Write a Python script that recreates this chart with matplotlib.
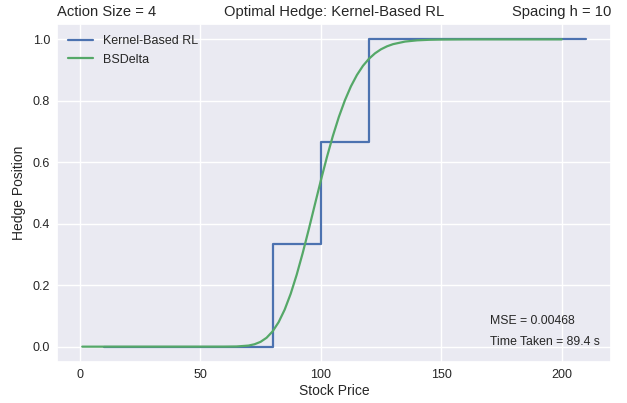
import matplotlib
matplotlib.use("Agg")
import matplotlib.pyplot as plt
import seaborn as sns

# kernel-based RL hedge: piecewise constant over the stock price grid
rl_price = [10, 80, 100, 120, 210]
rl_hedge = [0.0, 1 / 3, 2 / 3, 1.0, 1.0]

# Black-Scholes delta sampled along the price axis
bs_price = [1, 10, 20, 30, 40, 50, 60, 65, 70, 72.5, 75, 77.5, 80, 82.5, 85,
            87.5, 90, 92.5, 95, 97.5, 100, 102.5, 105, 107.5, 110, 112.5, 115,
            117.5, 120, 122.5, 125, 127.5, 130, 135, 140, 145, 150, 160, 170,
            180, 190, 200]
bs_delta = [0.0, 0.0, 0.0, 0.0, 0.0, 0.0, 0.00005, 0.0005, 0.0035, 0.0078,
            0.0156, 0.0289, 0.0496, 0.0796, 0.1202, 0.1718, 0.234, 0.3047,
            0.3813, 0.461, 0.540, 0.6155, 0.6853, 0.7476, 0.8015, 0.847,
            0.8841, 0.9139, 0.9369, 0.9546, 0.9678, 0.9775, 0.9845, 0.9929,
            0.9969, 0.9987, 0.9995, 0.99995, 1.0, 1.0, 1.0, 1.0]

mse = 0.00468
time_taken = 89.4
action_size = 4
spacing = 10

sns.set_theme(style="darkgrid")
plt.rcParams['font.family'] = ['Liberation Sans', 'DejaVu Sans']

fig, ax = plt.subplots(figsize=(6.27, 4.03), dpi=100)
fig.subplots_adjust(left=0.091, right=0.9745, top=0.9404, bottom=0.1017)

ax.step(rl_price, rl_hedge, where='post', color='#4C72B0', lw=1.6, label='Kernel-Based RL')
ax.plot(bs_price, bs_delta, color='#55A868', lw=1.6, label='BSDelta')

ax.set_title('Action Size = {}'.format(action_size), loc='left', fontsize=10.6)
ax.set_title('Optimal Hedge: Kernel-Based RL', fontsize=10.6)
ax.set_title('Spacing h = {}'.format(spacing), loc='right', fontsize=10.6)
ax.set_xlabel('Stock Price', fontsize=10, labelpad=2)
ax.set_ylabel('Hedge Position', fontsize=10, labelpad=5)
ax.tick_params(labelsize=9, length=0, pad=5)

ax.legend(loc='upper left', fontsize=9, frameon=False)

ax.text(0.782, 0.12, 'MSE = {}'.format(mse), transform=ax.transAxes, fontsize=8.8, va='center')
ax.text(0.782, 0.06, 'Time Taken = {} s'.format(time_taken), transform=ax.transAxes, fontsize=8.8, va='center')

fig.savefig('out.png', dpi=100)
